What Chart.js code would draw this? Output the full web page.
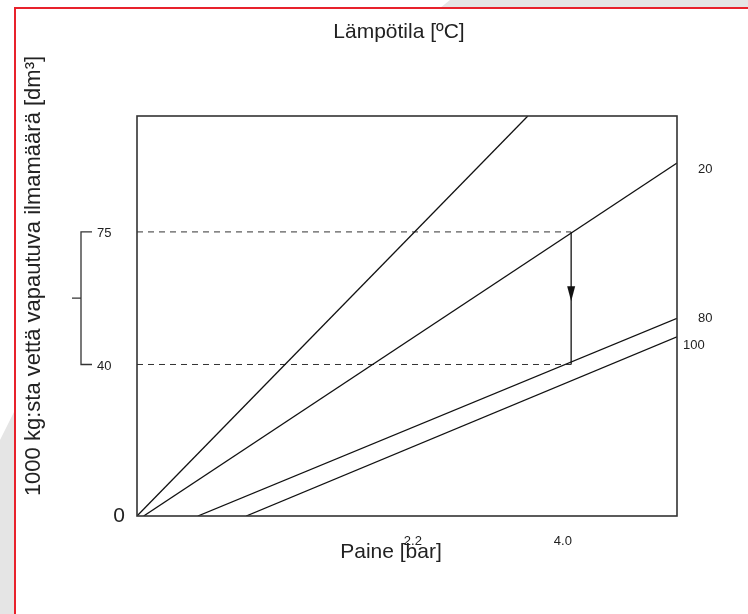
<!DOCTYPE html>
<html>
<head>
<meta charset="utf-8">
<script src="https://cdn.jsdelivr.net/npm/chart.js@4/dist/chart.umd.min.js"></script>
<style>
  html, body { margin: 0; padding: 0; background: #fff; }
  #wrap { position: relative; width: 748px; height: 614px; overflow: hidden; }
  .bg { position: absolute; background: #e5e5e5; }
  #frame { position: absolute; left: 14px; top: 7px; width: 760px; height: 640px;
           border-left: 2px solid #e8222c; border-top: 2px solid #e8222c; }
  canvas { position: absolute; left: 0; top: 0; }
</style>
</head>
<body>
<div id="wrap">
  <div class="bg" style="left:440px;top:0;width:308px;height:8px;clip-path:polygon(10px 0,100% 0,100% 100%,0 100%)"></div>
  <div class="bg" style="left:0;top:0;width:14px;height:614px;clip-path:polygon(0 440px,14px 412px,14px 100%,0 100%)"></div>
  <div id="frame"></div>
  <canvas id="chart" width="748" height="614"></canvas>
</div>
<script>
// lämpötilakäyrät: vapautuva ilmamäärä paineen funktiona
const tempLabels = ['', '20', '80', '100']
const lineStartX = [-1.11, -1.03, -0.38, 0.2]
const lineEndX = [3.58, 5.37, 5.37, 5.37]
const lineEndY = [105.6, 93.2, 52.2, 47.3]
const levels = [75, 40]
const arrowX = 4.1
const xTicks = [2.2, 4.0]
const yTicks = [0, 40, 75]

const xMin = -1.11, xMax = 5.37
const yMin = 0, yMax = 105.6

const datasets = []
for (let i = 0; i < tempLabels.length; i++) {
  datasets.push({
    label: tempLabels[i],
    data: [{ x: lineStartX[i], y: 0 }, { x: lineEndX[i], y: lineEndY[i] }],
    borderColor: '#111', borderWidth: 1.3, pointRadius: 0, showLine: true
  })
}
levels.forEach(v => {
  datasets.push({
    label: 'taso ' + v,
    data: [{ x: xMin, y: v }, { x: arrowX, y: v }],
    borderColor: '#333', borderWidth: 1, borderDash: [6, 5], pointRadius: 0, showLine: true
  })
})
datasets.push({
  label: 'nuoli',
  data: [{ x: arrowX, y: levels[0] }, { x: arrowX, y: levels[1] }],
  borderColor: '#333', borderWidth: 1.5, pointRadius: 0, showLine: true
})

const extras = {
  id: 'extras',
  afterDatasetsDraw(chart) {
    const { ctx, chartArea: a, scales: { x, y } } = chart
    ctx.save()
    // kehys
    ctx.strokeStyle = '#333'
    ctx.lineWidth = 1.6
    ctx.strokeRect(a.left, a.top, a.right - a.left, a.bottom - a.top)

    // nuolenkärki
    const ax = x.getPixelForValue(arrowX)
    const top = y.getPixelForValue(levels[0]), bot = y.getPixelForValue(levels[1])
    const tip = (top + bot) / 2 + 3
    ctx.fillStyle = '#111'
    ctx.beginPath()
    ctx.moveTo(ax, tip)
    ctx.lineTo(ax - 4, tip - 15)
    ctx.lineTo(ax + 4, tip - 15)
    ctx.closePath()
    ctx.fill()

    // hakasulku vasemmalla
    ctx.strokeStyle = '#333'
    ctx.lineWidth = 1.3
    ctx.beginPath()
    ctx.moveTo(92, top); ctx.lineTo(81, top); ctx.lineTo(81, bot); ctx.lineTo(92, bot)
    ctx.moveTo(72, (top + bot) / 2); ctx.lineTo(81, (top + bot) / 2)
    ctx.stroke()

    // y-arvot
    ctx.fillStyle = '#222'
    ctx.textBaseline = 'middle'
    yTicks.forEach(v => {
      const py = y.getPixelForValue(v)
      if (v === 0) {
        ctx.font = '21px "Liberation Sans", Arial, sans-serif'
        ctx.textAlign = 'right'
        ctx.fillText('0', 125, py)
      } else {
        ctx.font = '13px "Liberation Sans", Arial, sans-serif'
        ctx.textAlign = 'left'
        ctx.fillText(String(v), 97, py + 2)
      }
    })

    // käyrien lämpötilat
    ctx.font = '13px "Liberation Sans", Arial, sans-serif'
    ctx.textAlign = 'left'
    const offs = [null, [21, 6], [21, 0], [6, 9]]
    tempLabels.forEach((t, i) => {
      if (!t) return
      const px = x.getPixelForValue(lineEndX[i]), py = y.getPixelForValue(lineEndY[i])
      ctx.fillText(t, px + offs[i][0], py + offs[i][1])
    })

    // otsikot
    ctx.font = '21px "Liberation Sans", Arial, sans-serif'
    ctx.textAlign = 'center'
    ctx.fillText('Lämpötila [ºC]', 399, 32)
    ctx.fillText('Paine [bar]', 391, 552)
    ctx.translate(34, 276)
    ctx.rotate(-Math.PI / 2)
    ctx.font = '22px "Liberation Sans", Arial, sans-serif'
    ctx.fillText('1000 kg:sta vettä vapautuva ilmamäärä [dm³]', 0, 0)
    ctx.restore()
  }
}

new Chart(document.getElementById('chart'), {
  type: 'scatter',
  data: { datasets },
  plugins: [extras],
  options: {
    responsive: false,
    animation: false,
    layout: { padding: { top: 116, right: 71, left: 0, bottom: 0 } },
    plugins: { legend: { display: false }, tooltip: { enabled: false } },
    scales: {
      x: {
        type: 'linear', min: xMin, max: xMax,
        afterBuildTicks: s => { s.ticks = xTicks.map(v => ({ value: v })) },
        afterFit: s => { s.height = 98 },
        grid: { display: false, drawTicks: false },
        border: { display: false },
        ticks: {
          padding: 18, color: '#222', maxRotation: 0,
          font: { family: '"Liberation Sans", Arial, sans-serif', size: 13 },
          callback: v => v.toFixed(1)
        }
      },
      y: {
        type: 'linear', min: yMin, max: yMax,
        afterFit: s => { s.width = 137 },
        grid: { display: false, drawTicks: false },
        border: { display: false },
        ticks: { display: false }
      }
    }
  }
})
</script>
</body>
</html>
